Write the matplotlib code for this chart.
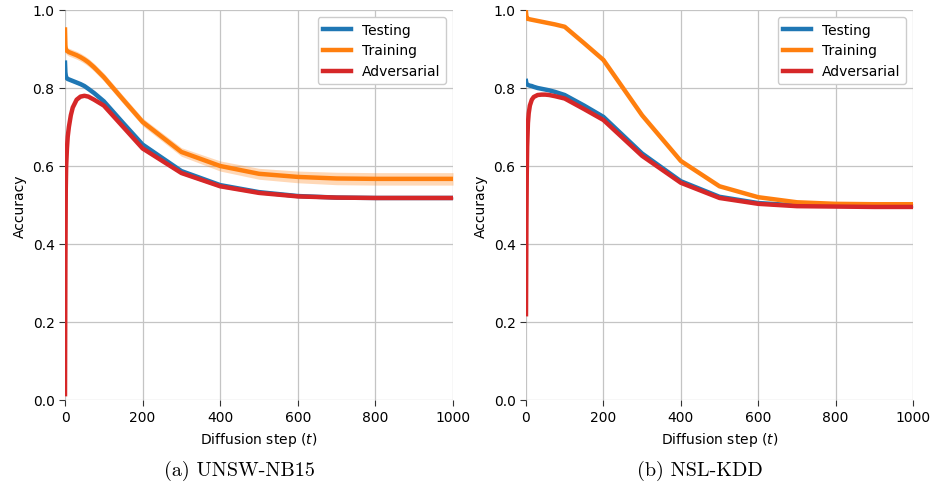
import matplotlib
matplotlib.use("Agg")
import matplotlib.pyplot as plt
import numpy as np

steps = [0, 1, 2, 3, 5, 7, 10, 15, 20, 30, 40, 50, 60, 75, 100, 150, 200,
         300, 400, 500, 600, 700, 800, 900, 1000]

# (a) UNSW-NB15
unsw_test = [0.865, 0.840, 0.832, 0.828, 0.825, 0.823, 0.822, 0.820, 0.818, 0.814,
             0.810, 0.805, 0.798, 0.787, 0.766, 0.710, 0.655, 0.587, 0.551, 0.533,
             0.523, 0.519, 0.518, 0.518, 0.518]
unsw_test_sd = [0.004, 0.004, 0.004, 0.004, 0.004, 0.004, 0.004, 0.004, 0.004, 0.004,
                0.004, 0.004, 0.004, 0.004, 0.005, 0.005, 0.005, 0.004, 0.004, 0.003,
                0.003, 0.003, 0.003, 0.003, 0.003]
unsw_train = [0.950, 0.910, 0.900, 0.897, 0.895, 0.894, 0.892, 0.890, 0.888, 0.884,
              0.879, 0.873, 0.866, 0.853, 0.828, 0.770, 0.713, 0.636, 0.600, 0.580,
              0.572, 0.568, 0.567, 0.567, 0.567]
unsw_train_sd = [0.010, 0.010, 0.010, 0.010, 0.010, 0.010, 0.010, 0.010, 0.010, 0.010,
                 0.010, 0.010, 0.010, 0.010, 0.010, 0.010, 0.010, 0.011, 0.013, 0.014,
                 0.015, 0.016, 0.016, 0.016, 0.016]
unsw_adv = [0.015, 0.350, 0.540, 0.600, 0.645, 0.675, 0.700, 0.730, 0.750, 0.770,
            0.778, 0.780, 0.778, 0.770, 0.755, 0.700, 0.645, 0.582, 0.548, 0.531,
            0.522, 0.519, 0.518, 0.518, 0.518]

# (b) NSL-KDD
nsl_test = [0.818, 0.812, 0.810, 0.809, 0.808, 0.807, 0.806, 0.805, 0.803, 0.800,
            0.798, 0.796, 0.794, 0.790, 0.782, 0.755, 0.726, 0.632, 0.561, 0.521,
            0.505, 0.499, 0.498, 0.497, 0.497]
nsl_train = [0.995, 0.985, 0.980, 0.978, 0.977, 0.977, 0.976, 0.975, 0.974, 0.972,
             0.970, 0.968, 0.966, 0.963, 0.957, 0.915, 0.872, 0.730, 0.613, 0.548,
             0.520, 0.507, 0.503, 0.502, 0.502]
nsl_adv = [0.220, 0.450, 0.580, 0.650, 0.710, 0.735, 0.755, 0.770, 0.777, 0.782,
           0.783, 0.783, 0.782, 0.779, 0.773, 0.746, 0.718, 0.626, 0.557, 0.518,
           0.503, 0.497, 0.496, 0.495, 0.495]
nsl_sd = [0.002] * len(steps)

series_labels = ["Testing", "Training", "Adversarial"]
captions = ["(a) UNSW-NB15", "(b) NSL-KDD"]
colors = ["#1f77b4", "#ff7f0e", "#d62728"]

fig = plt.figure(figsize=(9.35, 4.89), dpi=100)
ax1 = fig.add_axes([65 / 935, 88 / 489, 388 / 935, 390 / 489])
ax2 = fig.add_axes([526 / 935, 88 / 489, 387 / 935, 390 / 489])

panels = [
    (ax1, [(unsw_test, unsw_test_sd), (unsw_train, unsw_train_sd), (unsw_adv, unsw_test_sd)]),
    (ax2, [(nsl_test, nsl_sd), (nsl_train, nsl_sd), (nsl_adv, nsl_sd)]),
]

x = np.array(steps)
for (ax, data), cap in zip(panels, captions):
    for (vals, sd), lab, c in zip(data, series_labels, colors):
        v = np.array(vals)
        s = np.array(sd)
        ax.fill_between(x, v - s, v + s, color=c, alpha=0.3, linewidth=0)
        ax.plot(x, v, color=c, lw=3.2, label=lab)
    ax.set_xlim(0, 1000)
    ax.set_ylim(0, 1.0)
    ax.set_xticks([0, 200, 400, 600, 800, 1000])
    ax.set_yticks([0.0, 0.2, 0.4, 0.6, 0.8, 1.0])
    ax.grid(True, color="#c4c4c4", lw=0.9)
    ax.set_axisbelow(True)
    for sp in ax.spines.values():
        sp.set_visible(False)
    ax.tick_params(labelsize=10, length=4, width=0.8, color="#333333")
    ax.set_xlabel("Diffusion step ($t$)", fontsize=10)
    ax.set_ylabel("Accuracy", fontsize=10)
    leg = ax.legend(loc="upper right", fontsize=10, framealpha=1, edgecolor="#cccccc")
    ax.text(0.45, -0.18, cap, transform=ax.transAxes, ha="center", va="center",
            fontsize=14.5, family=["cmr10", "DejaVu Serif"])

fig.savefig("out.png", dpi=100)
